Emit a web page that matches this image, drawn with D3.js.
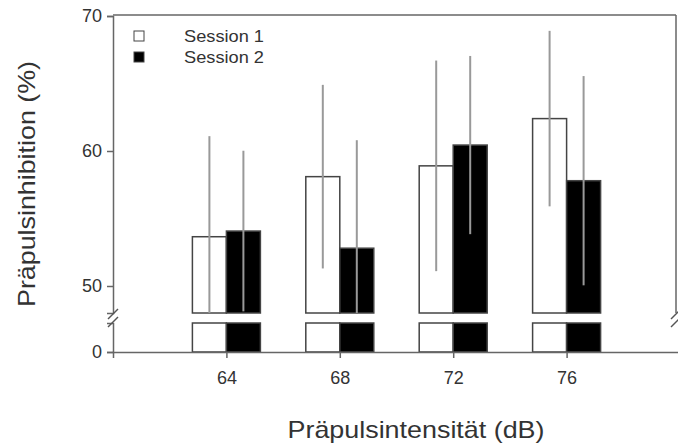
<!DOCTYPE html>
<html>
<head>
<meta charset="utf-8">
<script src="https://cdnjs.cloudflare.com/ajax/libs/d3/7.8.5/d3.min.js"></script>
<style>
  body { margin: 0; background: #fff; }
  svg { display: block; font-family: "Liberation Sans", Arial, sans-serif; }
  .axis path, .axis line { stroke: #666; stroke-width: 1.5; }
  .axis text { fill: #333; font-size: 18px; }
</style>
</head>
<body>
<script>
// data
let intensities = [64, 68, 72, 76];
let sessions = ['Session 1', 'Session 2'];
let meanS1 = [53.65, 58.1, 58.9, 62.4];
let errS1 = [7.45, 6.8, 7.8, 6.5];
let meanS2 = [54.07, 52.8, 60.44, 57.8];
let errS2 = [5.95, 8.0, 6.6, 7.75];
let upperTicks = [50, 60, 70];
let lowerTicks = [0];

let width = 678, height = 444;
let padLeft = 113, padRight = 676, padTop = 15, axisY = 352;
let upBottom = 313, lowTop = 323;
let barW = 34;

let svg = d3.select('body').append('svg')
  .attr('width', width)
  .attr('height', height);

let x = d3.scaleLinear().domain([60, 80]).range([padLeft, 680]);
let yUp = d3.scaleLinear().domain([48, 70]).range([upBottom, padTop + 1]);
let yLow = d3.scaleLinear().domain([0, 5]).range([axisY, lowTop]);
let xSub = d3.scaleBand().domain(sessions).range([-barW, barW]);

let rows = [];
intensities.forEach((db, i) => {
  rows.push({ db: db, s: sessions[0], m: meanS1[i], e: errS1[i] });
  rows.push({ db: db, s: sessions[1], m: meanS2[i], e: errS2[i] });
});
let fill = s => s === sessions[0] ? '#fff' : '#000';

// upper bars
svg.append('g').selectAll('rect')
  .data(rows).enter().append('rect')
  .attr('x', d => x(d.db) + xSub(d.s))
  .attr('width', xSub.bandwidth())
  .attr('y', d => yUp(d.m))
  .attr('height', d => yUp(48) - yUp(d.m))
  .style('fill', d => fill(d.s))
  .style('stroke', '#444')
  .style('stroke-width', 1.5);

// lower bars (stub below the break)
svg.append('g').selectAll('rect')
  .data(rows).enter().append('rect')
  .attr('x', d => x(d.db) + xSub(d.s))
  .attr('width', xSub.bandwidth())
  .attr('y', yLow(5))
  .attr('height', yLow(0) - yLow(5))
  .style('fill', d => fill(d.s))
  .style('stroke', '#444')
  .style('stroke-width', 1.5);

// error bars, no caps, clipped at the break
svg.append('g').selectAll('line')
  .data(rows).enter().append('line')
  .attr('x1', d => x(d.db) + xSub(d.s) + xSub.bandwidth() / 2)
  .attr('x2', d => x(d.db) + xSub(d.s) + xSub.bandwidth() / 2)
  .attr('y1', d => yUp(Math.max(48, d.m - d.e)))
  .attr('y2', d => yUp(d.m + d.e))
  .style('stroke', '#999')
  .style('stroke-width', 2);

// axes
svg.append('g').attr('class', 'axis')
  .attr('transform', 'translate(' + padLeft + ',0)')
  .call(d3.axisLeft(yUp).tickValues(upperTicks).tickFormat(d3.format('d')).tickSizeOuter(0).tickSize(6).tickPadding(5));
svg.append('g').attr('class', 'axis')
  .attr('transform', 'translate(' + padLeft + ',0)')
  .call(d3.axisLeft(yLow).tickValues(lowerTicks).tickFormat(d3.format('d')).tickSizeOuter(0).tickSize(6).tickPadding(5));
svg.append('g').attr('class', 'axis')
  .attr('transform', 'translate(0,' + axisY + ')')
  .call(d3.axisBottom(x).tickValues(intensities).tickFormat(d3.format('d')).tickSizeOuter(0).tickSize(6).tickPadding(13));

// frame top and right
svg.append('line').attr('x1', padLeft).attr('x2', padRight).attr('y1', padTop).attr('y2', padTop)
  .style('stroke', '#666').style('stroke-width', 1.5);
svg.append('line').attr('x1', padRight).attr('x2', padRight).attr('y1', padTop).attr('y2', upBottom)
  .style('stroke', '#666').style('stroke-width', 1.5);

// break marks
[padLeft, padRight].forEach(bx => {
  [upBottom + 1, lowTop - 1].forEach(by => {
    svg.append('line')
      .attr('x1', bx - 5).attr('y1', by + 5)
      .attr('x2', bx + 5).attr('y2', by - 5)
      .style('stroke', '#555').style('stroke-width', 1.5);
  });
});

// legend
sessions.forEach((s, i) => {
  svg.append('rect')
    .attr('x', 134).attr('y', 31 + i * 21)
    .attr('width', 10).attr('height', 10)
    .style('fill', fill(s)).style('stroke', '#444').style('stroke-width', 1);
  svg.append('text')
    .attr('x', 184).attr('y', 42 + i * 21)
    .attr('textLength', 80).attr('lengthAdjust', 'spacingAndGlyphs')
    .style('font-size', '17px').style('fill', '#333')
    .text(s);
});

// axis titles
svg.append('text')
  .attr('transform', 'translate(35,184) rotate(-90)')
  .attr('text-anchor', 'middle')
  .attr('textLength', 246).attr('lengthAdjust', 'spacingAndGlyphs')
  .style('font-size', '24px').style('fill', '#333')
  .text('Präpulsinhibition (%)');
svg.append('text')
  .attr('x', 416).attr('y', 438)
  .attr('text-anchor', 'middle')
  .attr('textLength', 257).attr('lengthAdjust', 'spacingAndGlyphs')
  .style('font-size', '24px').style('fill', '#333')
  .text('Präpulsintensität (dB)');
</script>
</body>
</html>
